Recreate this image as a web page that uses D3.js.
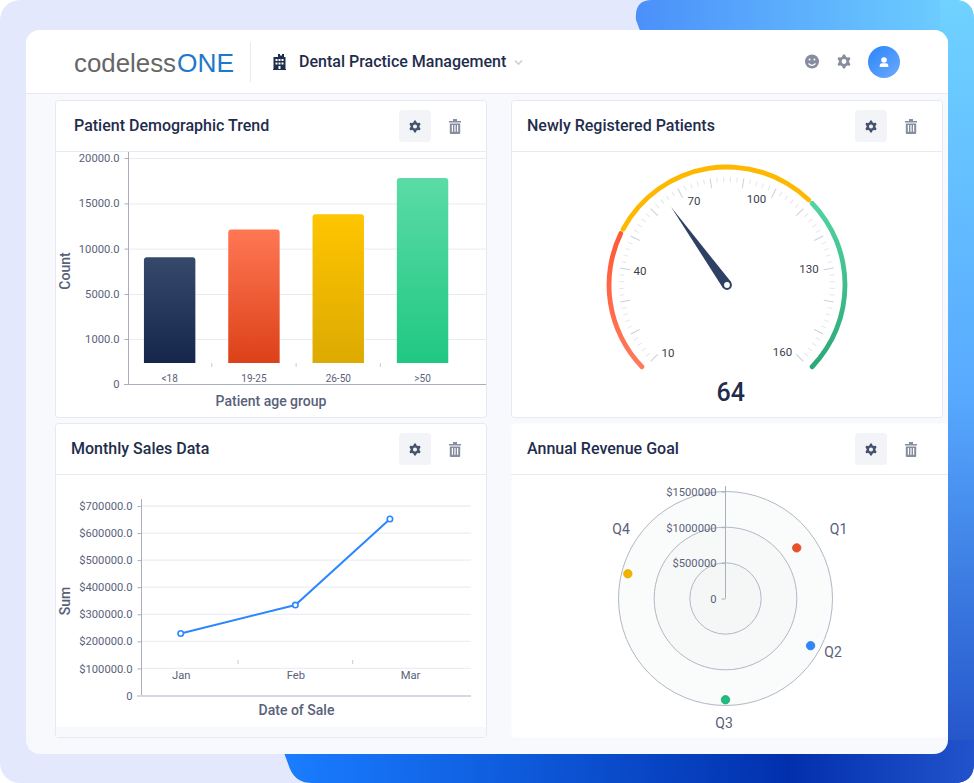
<!DOCTYPE html>
<html><head><meta charset="utf-8">
<script src="https://cdnjs.cloudflare.com/ajax/libs/d3/7.8.5/d3.min.js"></script>
<style>html,body{margin:0;padding:0;background:#fff;overflow:hidden}svg{display:block}text{font-family:Roboto,sans-serif}</style>
</head><body><svg id="c" width="974" height="783"></svg>
<script>
// ---- data ----
const ageGroups = ["<18","19-25","26-50",">50"];
const ageCounts = [9050,12100,13800,17800];
const countTicks = [0,1000,5000,10000,15000,20000];
const barBaseValue = 467;
const saleMonths = ["Jan","Feb","Mar"];
const saleSums = [229000,334000,652000];
const salePositions = [0,1,1.825];
const sumTicks = [0,100000,200000,300000,400000,500000,600000,700000];
const gaugeLabel = 64;
const gaugeNeedle = 65.2;
const gaugeTicks = [10,40,70,100,130,160];
const gaugeBreaks = [10,50,110,160];
const quarters = ["Q1","Q2","Q3","Q4"];
const revenue = [1225000,1364000,1420000,1412000];
const revenueAngles = [54.6,119,180,284.2];
const revenueTicks = [500000,1000000,1500000];

const svg = d3.select("#c"), defs = svg.append("defs");
const ink="#1f2d4d", label="#59617a", grid="#e9ebf2", axisC="#a9aebd", icon="#868d9e";
function grad(id,stops,x1,y1,x2,y2,user){
  const g=defs.append("linearGradient").attr("id",id).attr("x1",x1).attr("y1",y1).attr("x2",x2).attr("y2",y2);
  if(user) g.attr("gradientUnits","userSpaceOnUse");
  stops.forEach(s=>g.append("stop").attr("offset",s[0]).attr("stop-color",s[1]));
}
// ---- backdrop ----
svg.append("rect").attr("width",974).attr("height",783).attr("rx",20).attr("fill","#e4e8fd");
defs.append("clipPath").attr("id","blob").append("path")
  .attr("d","M652,0H954Q974,0 974,20V763Q974,783 954,783H312Q296,783 290,769L283,750L642,36L636,20Q634,0 652,0Z");
grad("gTop",[[0,"#4b90fa"],[1,"#6fd2ff"]],636,0,974,0,true);
grad("gRight",[[0,"#6fd2ff"],[.5,"#58aaff"],[1,"#1f4cc4"]],0,0,0,783,true);
grad("gBot",[[0,"#1a7dff"],[.3,"#0f5fe0"],[.73,"#0230ad"],[1,"#2252cc"]],283,0,974,0,true);
const blob=svg.append("g").attr("clip-path","url(#blob)");
blob.append("rect").attr("x",600).attr("y",0).attr("width",374).attr("height",60).attr("fill","url(#gTop)");
blob.append("rect").attr("x",940).attr("y",0).attr("width",34).attr("height",783).attr("fill","url(#gRight)");
blob.append("rect").attr("x",270).attr("y",740).attr("width",704).attr("height",43).attr("fill","url(#gBot)");
// card
defs.append("clipPath").attr("id","card").append("rect").attr("x",26).attr("y",30).attr("width",922).attr("height",724).attr("rx",14);
const card=svg.append("g").attr("clip-path","url(#card)");
card.append("rect").attr("x",26).attr("y",30).attr("width",922).attr("height",724).attr("fill","#f8f9fc");
card.append("rect").attr("x",26).attr("y",30).attr("width",922).attr("height",63).attr("fill","#fff");
card.append("line").attr("x1",26).attr("x2",948).attr("y1",93.5).attr("y2",93.5).attr("stroke",grid);
card.append("line").attr("x1",250.5).attr("x2",250.5).attr("y1",42).attr("y2",82).attr("stroke",grid);

// ---- icons ----
function gearPath(cx,cy,R,r,hole){
  const p=d3.path(),n=6;
  for(let i=0;i<n*4;i++){
    const a=(i/(n*4))*2*Math.PI-Math.PI/12-Math.PI/2+.13;
    const rr=(i%4<2)?R:r, x=cx+rr*Math.cos(a), y=cy+rr*Math.sin(a);
    i?p.lineTo(x,y):p.moveTo(x,y);
  }
  p.closePath(); p.moveTo(cx+hole,cy); p.arc(cx,cy,hole,0,2*Math.PI);
  return p.toString();
}
function gear(g,cx,cy,R,c){g.append("path").attr("d",gearPath(cx,cy,R,R*.74,R*.34)).attr("fill",c).attr("fill-rule","evenodd");}
function trash(g,cx,cy){
  g.append("path").attr("fill",icon).attr("fill-rule","evenodd")
   .attr("d",`M${cx-6},${cy-5}h12v1.6h-12zM${cx-2},${cy-7}h4v2h-4zM${cx-5.2},${cy-2.6}h10.4v9.6q0,1 -1,1h-8.4q-1,0 -1,-1zM${cx-3.2},${cy-1}v6.8h1.2v-6.8zM${cx-.6},${cy-1}v6.8h1.2v-6.8zM${cx+2},${cy-1}v6.8h1.2v-6.8z`);
}
function panel(x,y,w,h,headH,title,titleX,bordered,btnX){
  const g=card.append("g");
  g.append("rect").attr("x",x+.5).attr("y",y+.5).attr("width",w-1).attr("height",h-1).attr("rx",3)
   .attr("fill","#fff").attr("stroke",bordered?"#e6e9f1":"none");
  g.append("line").attr("x1",x).attr("x2",x+w).attr("y1",y+headH+.5).attr("y2",y+headH+.5).attr("stroke",grid);
  g.append("text").attr("x",titleX).attr("y",y+31).attr("font-size",16).attr("font-weight",500).attr("fill",ink).text(title);
  g.append("rect").attr("x",btnX).attr("y",y+10).attr("width",32).attr("height",32).attr("rx",4).attr("fill","#f2f4f8");
  gear(g,btnX+16,y+26.5,6,"#46536f");
  trash(g,btnX+56,y+26);
  return g;
}
panel(55,100,432,318,51,"Patient Demographic Trend",74,true,399);
panel(511,100,432,318,51,"Newly Registered Patients",527,true,855);
panel(55,423,432,315,51,"Monthly Sales Data",71,true,399);
card.append("rect").attr("x",56).attr("y",727).attr("width",430).attr("height",10).attr("fill","#f8f9fc");
panel(511,423,437,315,51,"Annual Revenue Goal",527,false,855);

// ---- header ----
const hd=card.append("g");
hd.append("text").attr("x",74).attr("y",71.5).attr("font-size",26).attr("fill","#666")
  .attr("textLength",102).attr("lengthAdjust","spacingAndGlyphs").style("font-family","Liberation Sans").text("codeless");
hd.append("text").attr("x",177).attr("y",71.5).attr("font-size",26).attr("fill","#1f78c8")
  .attr("textLength",57).attr("lengthAdjust","spacingAndGlyphs").style("font-family","Liberation Sans").text("ONE");
hd.append("path").attr("fill",ink).attr("fill-rule","evenodd")
  .attr("d","M278,54h2v1.6h2v-1.6h0v0h2V57h1.5V69H286v1h-13v-1h.5V57H278ZM275.5,59v2h2v-2ZM278.5,59v2h2v-2ZM281.5,59v2h2v-2ZM275.5,62.5v2h2v-2ZM278.5,62.5v2h2v-2ZM281.5,62.5v2h2v-2ZM278.5,66v3h2v-3Z");
hd.append("text").attr("x",299).attr("y",67).attr("font-size",16).attr("font-weight",500).attr("fill",ink).text("Dental Practice Management");
hd.append("path").attr("d","M515,60.5l3.5,3.5l3.5,-3.5").attr("fill","none").attr("stroke","#ccd0da").attr("stroke-width",1.6);
hd.append("circle").attr("cx",812).attr("cy",61.5).attr("r",7).attr("fill",icon);
hd.selectAll("circle.e").data([-2.4,2.4]).join("circle").attr("cx",d=>812+d).attr("cy",59.5).attr("r",1).attr("fill","#fff");
hd.append("path").attr("d","M808.5,63.5q3.5,3.6 7,0").attr("fill","none").attr("stroke","#fff").attr("stroke-width",1.2);
gear(hd,844,61.5,7,icon);
grad("gAv",[[0,"#2a84fb"],[1,"#6cabfd"]],0,0,1,1);
hd.append("circle").attr("cx",884).attr("cy",62).attr("r",16).attr("fill","url(#gAv)");
hd.append("circle").attr("cx",884).attr("cy",60).attr("r",2.8).attr("fill","#fff");
hd.append("path").attr("d","M879.7,67v-1.4q0,-2.4 2.4,-2.4h3.8q2.4,0 2.4,2.4v1.4Z").attr("fill","#fff");

function styleAxis(g,size,color){
  g.selectAll("text").attr("font-size",size).attr("fill",color).attr("font-family","Roboto");
  g.select(".domain").attr("stroke",axisC);
  g.selectAll(".tick line").attr("stroke",axisC);
}
// ---- bar chart ----
const c1=svg.append("g");
const y1=d3.scaleLinear().domain(countTicks).range([384,339,294,248.6,203.4,158]);
const x1=d3.scaleBand().domain(ageGroups).range([127.5,464.7]).paddingInner(.39).paddingOuter(.195);
c1.append("g").selectAll("line").data(countTicks.slice(1)).join("line")
  .attr("x1",128).attr("x2",486).attr("y1",d=>y1(d)+.5).attr("y2",d=>y1(d)+.5).attr("stroke",grid);
const barCols=[["#37496b","#14264b"],["#ff7754","#dc4119"],["#ffc500","#dcaa02"],["#5bdba7","#20c882"]];
barCols.forEach((c,i)=>grad("bar"+i,[[0,c[0]],[1,c[1]]],0,0,0,1));
c1.append("g").selectAll("path").data(ageCounts).join("path").attr("fill",(d,i)=>`url(#bar${i})`)
  .attr("d",(d,i)=>{
    const x=x1(ageGroups[i]),w=x1.bandwidth(),t=y1(d),b=y1(barBaseValue),r=3,p=d3.path();
    p.moveTo(x,b);p.lineTo(x,t+r);p.quadraticCurveTo(x,t,x+r,t);p.lineTo(x+w-r,t);p.quadraticCurveTo(x+w,t,x+w,t+r);p.lineTo(x+w,b);p.closePath();
    return p.toString();
  });
const ay1=c1.append("g").attr("transform","translate(128.5,0)")
  .call(d3.axisLeft(y1).tickValues(countTicks).tickSize(4).tickPadding(5).tickSizeOuter(0)
  .tickFormat(d=>d===0?"0":d3.format(".1f")(d)));
styleAxis(ay1,11.2,label);
ay1.select(".domain").attr("d","M0,152V384");
const ax1=c1.append("g").attr("transform","translate(0,384.5)")
  .call(d3.axisBottom(x1).tickSize(0).tickPadding(-10));
styleAxis(ax1,10,label);
ax1.selectAll("text").attr("dy",0).attr("y",-3);
ax1.select(".domain").attr("d","M124,0H486");
c1.append("g").selectAll("line").data(ageGroups.slice(1)).join("line")
  .attr("x1",d=>x1(d)-x1.step()*.195).attr("x2",d=>x1(d)-x1.step()*.195).attr("y1",363).attr("y2",367).attr("stroke","#c8ccd6");
c1.append("text").attr("x",271).attr("y",406).attr("text-anchor","middle").attr("font-size",14).attr("font-weight",500).attr("fill",label).text("Patient age group");
c1.append("text").attr("transform","translate(70,271) rotate(-90)").attr("text-anchor","middle").attr("font-size",14).attr("font-weight",500).attr("fill",label).text("Count");

// ---- gauge ----
const c2=svg.append("g").attr("transform","translate(727,285)");
const ga=d3.scaleLinear().domain([10,160]).range([-135,135]);
const rad=d=>d*Math.PI/180;
const tickVals=d3.range(10,160.01,2);
c2.append("g").selectAll("line").data(tickVals).join("line")
  .attr("transform",d=>`rotate(${ga(d)})`)
  .attr("y1",-108).attr("y2",d=>d%10===0?-98:-103)
  .attr("stroke",d=>d%10===0?"#cdd0db":"#e4e6ec");
grad("gRed",[[0,"#ff5732"],[1,"#ff7a5e"]],0,-60,0,85,true);
grad("gYel",[[0,"#ffb800"],[1,"#ffb800"]],0,-120,0,0,true);
grad("gGrn",[[0,"#56d5a4"],[1,"#2aa878"]],0,-90,0,85,true);
const arcFills=["url(#gRed)","url(#gYel)","url(#gGrn)"];
const arc=d3.arc().innerRadius(115.6).outerRadius(120.4).cornerRadius(2.4);
c2.append("g").selectAll("path").data(d3.pairs(gaugeBreaks)).join("path")
  .attr("d",d=>arc({startAngle:rad(ga(d[0])),endAngle:rad(ga(d[1]))}))
  .attr("fill",(d,i)=>arcFills[i]);
const labelShift={10:[-59,68],40:[-87,-14],70:[-33,-84],100:[29.5,-86],130:[82,-16],160:[55.5,67]};
c2.append("g").selectAll("text").data(gaugeTicks).join("text")
  .attr("x",d=>labelShift[d][0]).attr("y",d=>labelShift[d][1]+4).attr("text-anchor","middle")
  .attr("font-size",11.5).attr("fill","#3a3f4c").text(d=>d);
c2.append("path").attr("fill","#2e4064").attr("transform",`rotate(${ga(gaugeNeedle)})`).attr("d","M-5,0L0,-96L5,0Z");
c2.append("circle").attr("r",3.9).attr("fill","#fff").attr("stroke","#2e4064").attr("stroke-width",2);
c2.append("text").attr("x",3.7).attr("y",116).attr("text-anchor","middle").attr("font-size",25).attr("font-weight",500).attr("fill",ink).text(gaugeLabel);

// ---- line chart ----
const c3=svg.append("g");
const y3=d3.scaleLinear().domain([0,700000]).range([695.5,506]);
const x3=d3.scaleLinear().domain([0,2]).range([180.7,410]);
c3.append("g").selectAll("line").data(sumTicks.slice(1)).join("line")
  .attr("x1",141).attr("x2",471).attr("y1",d=>y3(d)).attr("y2",d=>y3(d)).attr("stroke","#eceef3").attr("stroke-width",1.3);
const ay3=c3.append("g").attr("transform","translate(141.5,0)")
  .call(d3.axisLeft(y3).tickValues(sumTicks).tickSize(4).tickPadding(5).tickSizeOuter(0)
  .tickFormat(d=>d===0?"0":"$"+d3.format(".1f")(d)));
styleAxis(ay3,11.2,label);
ay3.select(".domain").attr("d","M0,499V696");
const ax3=c3.append("g").attr("transform","translate(0,696)")
  .call(d3.axisBottom(x3).tickValues([0,1,2]).tickSize(0).tickPadding(-10).tickFormat(d=>saleMonths[d]));
styleAxis(ax3,11.2,label);
ax3.selectAll("text").attr("dy",0).attr("y",-17);
ax3.select(".domain").attr("d","M137,0H471").attr("stroke","#d5d8e0").attr("stroke-width",2);
c3.append("g").selectAll("line").data([.5,1.5]).join("line")
  .attr("x1",d=>x3(d)).attr("x2",d=>x3(d)).attr("y1",660).attr("y2",664).attr("stroke","#c8ccd6");
const ln=d3.line().x(d=>x3(d[0])).y(d=>y3(d[1]));
const linePts=d3.zip(salePositions,saleSums);
c3.append("path").attr("d",ln(linePts)).attr("fill","none").attr("stroke","#2b86ff").attr("stroke-width",2);
c3.append("g").selectAll("circle").data(linePts).join("circle")
  .attr("cx",d=>x3(d[0])).attr("cy",d=>y3(d[1])).attr("r",2.7).attr("fill","#fff").attr("stroke","#2b86ff").attr("stroke-width",1.6);
c3.append("text").attr("x",296.5).attr("y",715).attr("text-anchor","middle").attr("font-size",14).attr("font-weight",500).attr("fill",label).text("Date of Sale");
c3.append("text").attr("transform","translate(70,601) rotate(-90)").attr("text-anchor","middle").attr("font-size",14).attr("font-weight",500).attr("fill",label).text("Sum");

// ---- radial chart ----
const c4=svg.append("g").attr("transform","translate(725.5,598.5)");
const r4=d3.scaleLinear().domain([0,1500000]).range([0,107]);
c4.append("g").selectAll("circle").data(revenueTicks.slice().reverse()).join("circle")
  .attr("r",d=>r4(d)).attr("fill","#f3f5f4").attr("fill-opacity",.4).attr("stroke","#b3b7c5");
const ay4=c4.append("g").call(d3.axisLeft(d3.scaleLinear().domain([0,1500000]).range([0,-107]))
  .tickValues([0,...revenueTicks]).tickSize(4).tickPadding(5).tickSizeOuter(0)
  .tickFormat(d=>d===0?"0":"$"+d));
styleAxis(ay4,11.2,label);
ay4.selectAll("text").attr("y",.5);
ay4.select(".domain").attr("d","M0,0V-112.5");
const quarterCols=["#e8502a","#2b86ff","#1fbe80","#f2b200"];
const quarterEdge=["#dd4a25","#2a7ae8","#1aa56e","#e8aa00"];
c4.append("g").selectAll("circle").data(revenue).join("circle")
  .attr("cx",(d,i)=>d3.pointRadial(rad(revenueAngles[i]),r4(d))[0])
  .attr("cy",(d,i)=>d3.pointRadial(rad(revenueAngles[i]),r4(d))[1])
  .attr("r",4.2).attr("fill",(d,i)=>quarterCols[i]).attr("stroke",(d,i)=>quarterEdge[i]).attr("stroke-width",.8);
const qLabel=[[113,-65],[107.5,58.5],[-1.5,129.5],[-104.5,-64.5]];
c4.append("g").selectAll("text").data(quarters).join("text")
  .attr("x",(d,i)=>qLabel[i][0]).attr("y",(d,i)=>qLabel[i][1]).attr("text-anchor","middle")
  .attr("font-size",14).attr("fill",label).text(d=>d);
</script></body></html>
